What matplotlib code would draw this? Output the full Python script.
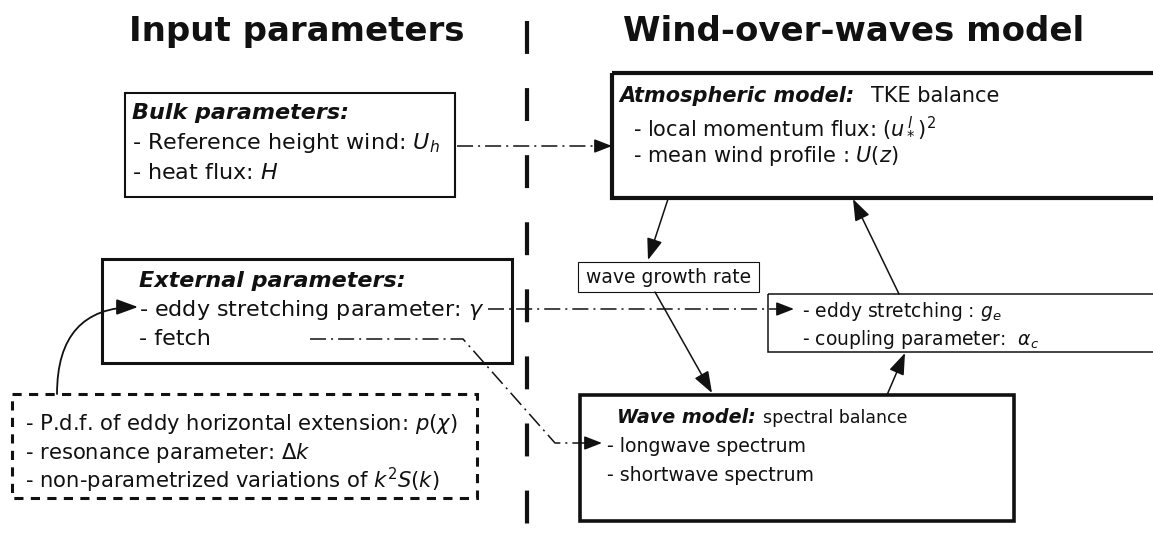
import matplotlib
matplotlib.use("Agg")
import matplotlib.pyplot as plt
from matplotlib.patches import Rectangle, FancyArrowPatch

# --- diagram texts ---
titles = ["Input parameters", "Wind-over-waves model"]
bulk_head = "Bulk parameters:"
bulk_lines = [r"- Reference height wind: $U_h$", r"- heat flux: $H$"]
ext_head = "External parameters:"
ext_lines = [r"- eddy stretching parameter: $\gamma$", "- fetch"]
hidden_lines = [r"- P.d.f. of eddy horizontal extension: $\mathit{p(}\chi\mathit{)}$",
                r"- resonance parameter: $\Delta k$",
                r"- non-parametrized variations of $k^2\mathit{S(k)}$"]
atm_head = ["Atmospheric model:", "TKE balance"]
atm_lines = [r"- local momentum flux: $\mathit{(}u_*^{\,l}\mathit{)}^2$",
             r"- mean wind profile : $\mathit{U(z)}$"]
growth_label = "wave growth rate"
eddy_lines = [r"- eddy stretching : $g_e$", r"- coupling parameter:  $\alpha_c$"]
wave_head = ["Wave model:", "spectral balance"]
wave_lines = ["- longwave spectrum", "- shortwave spectrum"]

INK = "#111111"
DASHDOT = (0, (10.5, 3.3, 1.3, 3.3))


def box(ax, x, y, w, h, lw, ls="-"):
    ax.add_patch(Rectangle((x, y), w, h, fill=False, lw=lw, ec=INK, ls=ls, joinstyle="miter"))


def head(ax, start, tip):
    # small solid arrow head at the end of a dash-dot link
    ax.add_patch(FancyArrowPatch(start, tip, arrowstyle="-|>,head_length=0.9,head_width=0.35",
                                 mutation_scale=12, lw=1.1, color=INK, shrinkA=0, shrinkB=0))


def draw_diagram():
    fig = plt.figure(figsize=(11.53, 5.33), dpi=100)
    ax = fig.add_axes([0, 0, 1, 1])
    ax.set_xlim(0, 1153)
    ax.set_ylim(533, 0)
    ax.axis("off")

    # titles and the separating line
    ax.text(297, 41, titles[0], fontsize=24.5, fontweight="bold", ha="center", color=INK)
    ax.text(854, 41, titles[1], fontsize=24.5, fontweight="bold", ha="center", color=INK)
    ax.plot([527, 527], [21, 540], color=INK, lw=3, ls=(0, (7.9, 8.2)), solid_capstyle="butt")

    # bulk parameters
    box(ax, 125, 93, 330, 104, 1.5)
    ax.text(132, 119, bulk_head, fontsize=16, fontweight="bold", fontstyle="italic", color=INK)
    ax.text(132, 149, bulk_lines[0], fontsize=16, color=INK)
    ax.text(132, 179, bulk_lines[1], fontsize=16, color=INK)

    # atmospheric model
    box(ax, 612, 73, 600, 125, 3)
    ax.text(619, 102, atm_head[0], fontsize=15, fontweight="bold", fontstyle="italic", color=INK)
    ax.text(871, 102, atm_head[1], fontsize=15, color=INK)
    ax.text(633, 134, atm_lines[0], fontsize=15, color=INK)
    ax.text(633, 162, atm_lines[1], fontsize=15, color=INK)

    # external parameters
    box(ax, 102, 259, 410, 104, 2.2)
    ax.text(139, 287, ext_head, fontsize=16, fontweight="bold", fontstyle="italic", color=INK)
    ax.text(139, 316, ext_lines[0], fontsize=16, color=INK)
    ax.text(139, 345, ext_lines[1], fontsize=16, color=INK)

    # non-parametrized quantities (dashed)
    box(ax, 12, 394, 465, 104, 2.2, ls=(0, (3, 2.4)))
    ax.text(25, 430, hidden_lines[0], fontsize=15.2, color=INK)
    ax.text(25, 459, hidden_lines[1], fontsize=15.2, color=INK)
    ax.text(25, 488, hidden_lines[2], fontsize=15.2, color=INK)

    # wave growth rate
    box(ax, 578, 262, 181, 30, 0.8)
    ax.text(669, 283, growth_label, fontsize=13.5, ha="center", color=INK)

    # eddy stretching / coupling
    box(ax, 768, 294, 450, 58, 1.1)
    ax.text(802, 317, eddy_lines[0], fontsize=13.5, color=INK)
    ax.text(802, 345, eddy_lines[1], fontsize=13.5, color=INK)

    # wave model
    box(ax, 580, 395, 434, 126, 2.6)
    ax.text(617, 423, wave_head[0], fontsize=13.8, fontweight="bold", fontstyle="italic", color=INK)
    ax.text(763, 423, wave_head[1], fontsize=12.5, color=INK)
    ax.text(607, 452, wave_lines[0], fontsize=13.6, color=INK)
    ax.text(607, 481, wave_lines[1], fontsize=13.6, color=INK)

    # solid flow arrows
    style = "-|>,head_length=1.1,head_width=0.4"
    for a, b in [((668, 199), (648, 260)), ((655, 292), (712, 393)),
                 ((887, 395), (905, 353)), ((899, 294), (853, 199))]:
        ax.add_patch(FancyArrowPatch(a, b, arrowstyle=style, mutation_scale=12, lw=1.1,
                                     color=INK, shrinkA=0, shrinkB=0))
    ax.add_patch(FancyArrowPatch((57, 394), (138, 307), arrowstyle=style, mutation_scale=12,
                                 lw=1.3, color=INK, shrinkA=0, shrinkB=0,
                                 connectionstyle="angle3,angleA=90,angleB=0"))

    # dash-dot links from inputs to model
    ax.plot([457, 600], [146, 146], color=INK, lw=1.1, ls=DASHDOT)
    head(ax, (598, 146), (612, 146))
    ax.plot([488, 782], [309, 309], color=INK, lw=1.1, ls=DASHDOT)
    head(ax, (780, 309), (794, 309))
    ax.plot([310, 463, 555, 590], [339, 339, 443, 443], color=INK, lw=1.1, ls=DASHDOT)
    head(ax, (588, 443), (602, 443))

    fig.savefig("out.png", dpi=100)


if __name__ == '__main__':
    draw_diagram()
